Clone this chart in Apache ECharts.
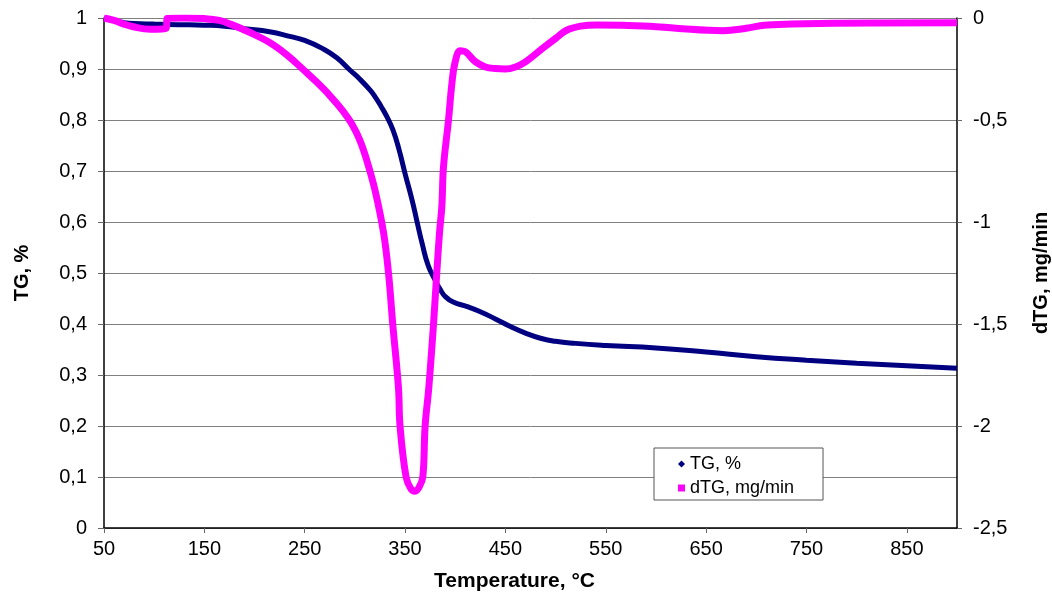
<!DOCTYPE html>
<html>
<head>
<meta charset="utf-8">
<script src="https://cdn.jsdelivr.net/npm/echarts@6/dist/echarts.min.js"></script>
<style>
html,body{margin:0;padding:0;background:#fff;}
#chart{width:1052px;height:600px;}
</style>
</head>
<body>
<div id="chart"></div>
<script>
// TG curve (left axis, fraction)
const tgTemp = [50, 60, 70, 80, 100, 125, 150, 170, 190, 215, 235, 250, 268, 282, 295, 305, 315, 320, 326, 332, 338, 344, 350, 357, 362, 367, 373, 380, 385, 390, 398, 412, 425, 440, 455, 470, 485, 500, 520, 550, 600, 650, 700, 750, 800, 850, 900];
const tgValue = [1.0, 0.995, 0.991, 0.989, 0.988, 0.987, 0.986, 0.984, 0.979, 0.973, 0.964, 0.956, 0.94, 0.922, 0.898, 0.88, 0.859, 0.846, 0.827, 0.806, 0.78, 0.742, 0.695, 0.643, 0.600, 0.558, 0.515, 0.486, 0.468, 0.454, 0.443, 0.434, 0.424, 0.41, 0.395, 0.382, 0.372, 0.366, 0.362, 0.358, 0.353, 0.345, 0.336, 0.329, 0.323, 0.318, 0.313];

// dTG curve (right axis, mg/min)
const dtgTemp = [50, 60, 70, 79, 96, 112, 113, 130, 150, 165, 176, 195, 215, 232, 249, 260, 275, 288, 297, 305, 312, 320, 328.5, 333.5, 337.8, 343.4, 345, 351, 356, 360, 364, 367.7, 370, 373.7, 378.3, 381.6, 384.3, 386.7, 388.3, 393.3, 396.7, 400, 405, 410, 420, 430, 440, 450, 460, 470, 485, 500, 511, 525, 541, 594, 620, 667, 690, 711, 777, 900];
const dtgValue = [0, -0.012, -0.03, -0.043, -0.055, -0.05, -0.002, 0, -0.003, -0.012, -0.03, -0.07, -0.12, -0.18, -0.255, -0.305, -0.38, -0.455, -0.52, -0.6, -0.7, -0.843, -1.05, -1.25, -1.505, -1.81, -2.0, -2.25, -2.31, -2.32, -2.30, -2.25, -2.0, -1.81, -1.505, -1.25, -1.055, -0.92, -0.73, -0.5, -0.32, -0.214, -0.16, -0.165, -0.214, -0.24, -0.248, -0.25, -0.24, -0.215, -0.157, -0.1, -0.06, -0.04, -0.034, -0.04, -0.05, -0.062, -0.05, -0.034, -0.026, -0.023];

const xTicks = {min: 50, max: 900, interval: 100};
const leftTicks = {min: 0, max: 1, interval: 0.1};
const rightTicks = {min: -2.5, max: 0, interval: 0.5};

const tgData = tgTemp.map((t, i) => [t, tgValue[i]]);
const dtgData = dtgTemp.map((t, i) => [t, dtgValue[i]]);

const FONT = '"Liberation Sans", Arial, sans-serif';
const comma = v => {
  const r = Math.round(v * 10) / 10;
  return String(r).replace('.', ',');
};

const chart = echarts.init(document.getElementById('chart'), null, {renderer: 'canvas'});
chart.setOption({
  backgroundColor: '#fff',
  animation: false,
  textStyle: {fontFamily: FONT},
  grid: {left: 104, right: 95, top: 18, bottom: 72, containLabel: false, outerBoundsMode: 'none'},
  legend: {
    orient: 'vertical',
    left: 654,
    top: 448,
    padding: [7, 29, 3, 24],
    itemGap: 6,
    itemWidth: 7,
    itemHeight: 7,
    borderColor: '#555',
    borderWidth: 1,
    backgroundColor: '#fff',
    textStyle: {fontSize: 18, color: '#000', fontFamily: FONT},
    data: [
      {name: 'TG, %', icon: 'diamond'},
      {name: 'dTG, mg/min', icon: 'rect'}
    ]
  },
  xAxis: {
    type: 'value',
    min: xTicks.min,
    max: xTicks.max,
    interval: xTicks.interval,
    name: 'Temperature, °C',
    nameLocation: 'middle',
    nameGap: 43,
    nameTextStyle: {fontSize: 21, fontWeight: 'bold', color: '#000', fontFamily: FONT, padding: [0, 32, 0, 0]},
    axisLine: {show: true, onZero: false, lineStyle: {color: '#000', width: 1.5}},
    axisTick: {show: true, length: 5, lineStyle: {color: '#666'}},
    axisLabel: {fontSize: 20, color: '#000', margin: 11, showMaxLabel: false, fontFamily: FONT},
    splitLine: {show: false}
  },
  yAxis: [
    {
      type: 'value',
      position: 'left',
      min: leftTicks.min,
      max: leftTicks.max,
      interval: leftTicks.interval,
      name: 'TG, %',
      nameLocation: 'middle',
      nameRotate: 90,
      nameGap: 72,
      nameTextStyle: {fontSize: 20, fontWeight: 'bold', color: '#000', fontFamily: FONT},
      axisLine: {show: true, onZero: false, lineStyle: {color: '#000', width: 1.5}},
      axisTick: {show: true, length: 6, lineStyle: {color: '#666'}},
      axisLabel: {fontSize: 20, color: '#000', margin: 17, formatter: comma, fontFamily: FONT},
      splitLine: {show: true, lineStyle: {color: '#808080', width: 1}}
    },
    {
      type: 'value',
      position: 'right',
      min: rightTicks.min,
      max: rightTicks.max,
      interval: rightTicks.interval,
      name: 'dTG, mg/min',
      nameLocation: 'middle',
      nameRotate: 90,
      nameGap: 74,
      nameTextStyle: {fontSize: 20, fontWeight: 'bold', color: '#000', fontFamily: FONT},
      axisLine: {show: true, onZero: false, lineStyle: {color: '#000', width: 1.5}},
      axisTick: {show: true, length: 5, lineStyle: {color: '#666'}},
      axisLabel: {fontSize: 20, color: '#000', margin: 16, formatter: comma, fontFamily: FONT},
      splitLine: {show: false}
    }
  ],
  series: [
    {
      name: 'TG, %',
      type: 'line',
      yAxisIndex: 0,
      data: tgData,
      showSymbol: false,
      symbol: 'diamond',
      smooth: 0.5,
      itemStyle: {color: '#000080'},
      lineStyle: {color: '#000080', width: 5},
      z: 2
    },
    {
      name: 'dTG, mg/min',
      type: 'line',
      yAxisIndex: 1,
      data: dtgData,
      showSymbol: false,
      symbol: 'rect',
      smooth: 0.4,
      itemStyle: {color: '#FF00FF'},
      lineStyle: {color: '#FF00FF', width: 7},
      z: 3
    }
  ]
});
</script>
</body>
</html>
